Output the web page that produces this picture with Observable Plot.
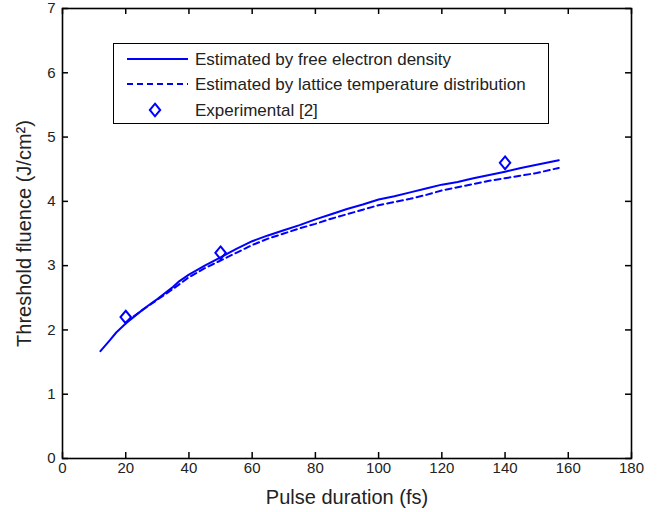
<!DOCTYPE html>
<html>
<head>
<meta charset="utf-8">
<script src="https://cdn.jsdelivr.net/npm/d3@7"></script>
<script src="https://cdn.jsdelivr.net/npm/@observablehq/plot@0.6"></script>
<style>
  body { margin: 0; background: #fff; }
  #wrap { position: relative; width: 662px; height: 512px; font-family: "Liberation Sans", Arial, sans-serif; }
  #legend { position: absolute; left: 113px; top: 43px; width: 434px; height: 79px; border: 1px solid #000; background: #fff; }
</style>
</head>
<body>
<div id="wrap"><div id="legend"></div></div>
<script>
// Data
const freeX = [12, 15, 17, 20, 25, 28, 30, 35, 37, 40, 45, 50, 55, 60, 65, 70, 75, 80, 85, 90, 95, 100, 105, 110, 115, 120, 125, 130, 135, 140, 145, 150, 157];
const freeY = [1.67, 1.84, 1.96, 2.1, 2.3, 2.41, 2.48, 2.67, 2.76, 2.86, 3.0, 3.13, 3.26, 3.38, 3.47, 3.55, 3.63, 3.72, 3.8, 3.88, 3.95, 4.03, 4.08, 4.14, 4.2, 4.26, 4.3, 4.36, 4.41, 4.46, 4.52, 4.57, 4.64];
const latticeX = [20, 25, 30, 35, 40, 45, 50, 55, 60, 65, 70, 75, 80, 85, 90, 95, 100, 105, 110, 115, 120, 125, 130, 135, 140, 145, 150, 157];
const latticeY = [2.12, 2.3, 2.47, 2.64, 2.82, 2.96, 3.08, 3.2, 3.32, 3.42, 3.5, 3.58, 3.65, 3.73, 3.8, 3.87, 3.94, 3.99, 4.04, 4.1, 4.17, 4.22, 4.27, 4.32, 4.36, 4.4, 4.44, 4.52];
const expX = [20, 50, 140];
const expY = [2.2, 3.2, 4.6];
const xTicks = [0, 20, 40, 60, 80, 100, 120, 140, 160, 180];
const yTicks = [0, 1, 2, 3, 4, 5, 6, 7];
const legendLabels = ["Estimated by free electron density", "Estimated by lattice temperature distribution", "Experimental [2]"];
const xLabel = "Pulse duration (fs)";
const yLabel = "Threshold fluence (J/cm²)";

const blue = "#0000ff";
const free = freeX.map((x, i) => ({x, y: freeY[i]}));
const lattice = latticeX.map((x, i) => ({x, y: latticeY[i]}));
const exp = expX.map((x, i) => ({x, y: expY[i]}));

// MATLAB-like diamond (slightly taller than wide)
const matDiamond = {
  draw(ctx, size) {
    const r = Math.sqrt(size / Math.PI);
    const h = r * 1.15, w = r * 0.95;
    ctx.moveTo(0, -h); ctx.lineTo(w, 0); ctx.lineTo(0, h); ctx.lineTo(-w, 0); ctx.closePath();
  }
};

const W = 662, H = 512, mL = 62, mR = 31, mT = 8, mB = 54, tk = 6;
const xDom = [0, 180], yDom = [0, 7];
const fw = W - mL - mR, fh = H - mT - mB;
// tick length expressed in data units of each axis
const tkX = tk / fw * (xDom[1] - xDom[0]);
const tkY = tk / fh * (yDom[1] - yDom[0]);
const tickLine = {stroke: "#000", strokeWidth: 1.5};

const chart = Plot.plot({
  width: W,
  height: H,
  marginLeft: mL,
  marginRight: mR,
  marginTop: mT,
  marginBottom: mB,
  style: {fontFamily: "'Liberation Sans', Arial, sans-serif", color: "#222", background: "#fff"},
  x: {domain: xDom},
  y: {domain: yDom},
  marks: [
    Plot.axisX({anchor: "bottom", ticks: xTicks, tickFormat: "d", tickSize: 0, tickPadding: 4, fontSize: 15, label: xLabel, labelAnchor: "center", labelArrow: "none", labelOffset: 45}),
    Plot.axisY({anchor: "left", ticks: yTicks, tickFormat: "d", tickSize: 0, tickPadding: 7, fontSize: 15, label: yLabel, labelAnchor: "center", labelArrow: "none", labelOffset: 46}),
    // inward ticks on all four sides (MATLAB style)
    Plot.ruleX(xTicks, {x: d => d, y1: yDom[0], y2: yDom[0] + tkY, ...tickLine}),
    Plot.ruleX(xTicks, {x: d => d, y1: yDom[1] - tkY, y2: yDom[1], ...tickLine}),
    Plot.ruleY(yTicks, {y: d => d, x1: xDom[0], x2: xDom[0] + tkX, ...tickLine}),
    Plot.ruleY(yTicks, {y: d => d, x1: xDom[1] - tkX, x2: xDom[1], ...tickLine}),
    Plot.frame({stroke: "#000", strokeWidth: 1.6}),
    Plot.line(free, {x: "x", y: "y", stroke: blue, strokeWidth: 2}),
    Plot.line(lattice, {x: "x", y: "y", stroke: blue, strokeWidth: 2, strokeDasharray: "6,4"}),
    Plot.dot(exp, {x: "x", y: "y", symbol: matDiamond, r: 5.5, stroke: blue, strokeWidth: 2, fill: "none"})
  ]
});
chart.style.position = "absolute";
chart.style.left = "0";
chart.style.top = "0";
const wrap = document.getElementById("wrap");
wrap.insertBefore(chart, wrap.firstChild);
// axis label font size
chart.querySelectorAll("text").forEach(t => {
  if (t.textContent === xLabel || t.textContent === yLabel) t.setAttribute("font-size", 20);
});

// Legend
const legend = d3.select("#legend");
const svg = legend.append("svg").attr("width", 434).attr("height", 79).style("position", "absolute").style("left", 0).style("top", 0);
const rowsY = [15, 40, 66];
legendLabels.forEach((lab, i) => {
  const y = rowsY[i];
  if (i < 2) {
    svg.append("line").attr("x1", 13).attr("x2", 74).attr("y1", y).attr("y2", y)
      .attr("stroke", blue).attr("stroke-width", 2).attr("stroke-dasharray", i === 1 ? "6,4" : null);
  } else {
    svg.append("path").attr("d", "M41," + (y - 6.3) + "L46.2," + y + "L41," + (y + 6.3) + "L35.8," + y + "Z")
      .attr("fill", "none").attr("stroke", blue).attr("stroke-width", 2);
  }
  svg.append("text").attr("x", 81).attr("y", y).attr("dy", "0.35em")
    .attr("font-size", 17).attr("fill", "#222").attr("font-family", "'Liberation Sans', Arial, sans-serif").text(lab);
});
</script>
</body>
</html>
